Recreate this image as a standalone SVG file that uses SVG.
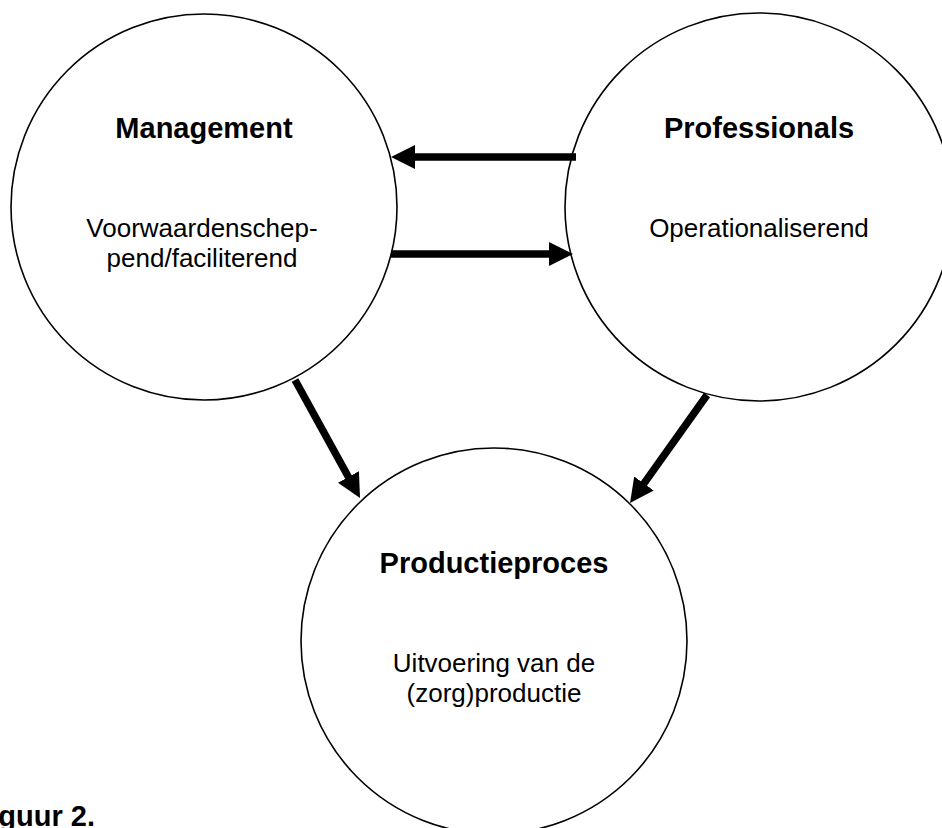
<svg xmlns="http://www.w3.org/2000/svg" width="942" height="828" viewBox="0 0 942 828">
  <style>
    .node { fill: #ffffff; stroke: #000000; stroke-width: 1.6; }
    .title { font-family: "Liberation Sans", Arial, sans-serif; font-weight: bold; font-size: 29px; fill: #000000; text-anchor: middle; }
    .body { font-family: "Liberation Sans", Arial, sans-serif; font-size: 26px; fill: #000000; text-anchor: middle; }
    .conn { stroke: #000000; stroke-width: 7.5; fill: none; marker-end: url(#head); }
    .caption { font-family: "Liberation Sans", Arial, sans-serif; font-weight: bold; font-size: 29px; fill: #000000; }
  </style>
  <defs>
    <marker id="head" markerUnits="userSpaceOnUse" markerWidth="24" markerHeight="24" viewBox="0 0 24 24" refX="2" refY="12" orient="auto">
      <path d="M0,0 L24,12 L0,24 Z" fill="#000000"/>
    </marker>
  </defs>
  <rect width="942" height="828" fill="#ffffff"/>

  <g id="management">
    <circle class="node" cx="204" cy="207" r="193"/>
    <text class="title" x="204" y="138">Management</text>
    <text class="body" x="202" y="237">Voorwaardenschep-</text>
    <text class="body" x="202" y="267">pend/faciliterend</text>
  </g>

  <g id="professionals">
    <circle class="node" cx="759" cy="207" r="194"/>
    <text class="title" x="759" y="138">Professionals</text>
    <text class="body" x="759" y="237">Operationaliserend</text>
  </g>

  <g id="productieproces">
    <circle class="node" cx="494" cy="641" r="193"/>
    <text class="title" x="494" y="573">Productieproces</text>
    <text class="body" x="494" y="672">Uitvoering van de</text>
    <text class="body" x="494" y="702">(zorg)productie</text>
  </g>

  <g id="connectors">
    <line class="conn" x1="576" y1="157" x2="413" y2="157"/>
    <line class="conn" x1="391" y1="254" x2="551" y2="254"/>
    <line class="conn" x1="295" y1="380" x2="349.4" y2="478.7"/>
    <line class="conn" x1="707" y1="395" x2="642.8" y2="485.1"/>
  </g>

  <!-- caption runs off the left edge of the page -->
  <text class="caption" x="95" y="826" text-anchor="end">Figuur 2.</text>
</svg>
